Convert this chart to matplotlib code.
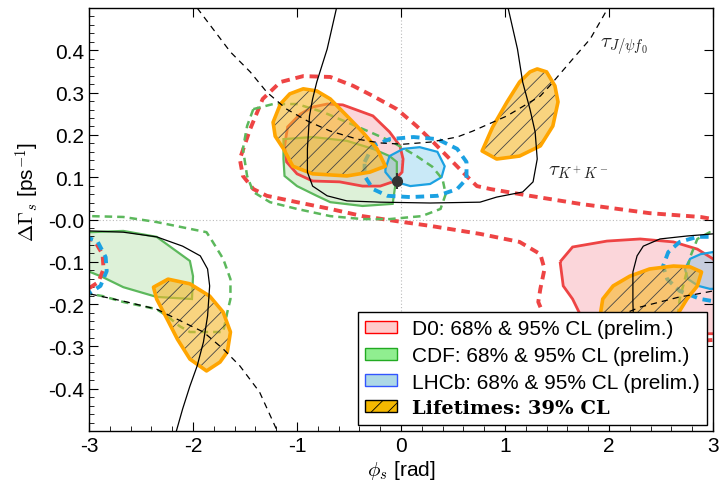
## phi_s vs DeltaGamma_s contours (D0, CDF, LHCb, lifetimes)

import numpy as np
import matplotlib.pyplot as plt
from matplotlib.patches import Patch
from matplotlib.ticker import MultipleLocator, FormatStrFormatter

plt.rcParams['font.family'] = ['Liberation Sans', 'DejaVu Sans']
plt.rcParams['mathtext.fontset'] = 'cm'
plt.rcParams['axes.unicode_minus'] = False
plt.rcParams['hatch.linewidth'] = 0.6

## ---- contours: phi_s [rad], DeltaGamma_s [ps^-1] ----
# D0 68% (two islands)
d0_68a_x = [-0.71, -0.56, -0.27, -0.11, -0.01, 0.02, 0.01, -0.08, -0.20, -0.37, -0.59, -0.85, -1.00, -1.10, -1.12, -1.09, -0.97, -0.85]
d0_68a_y = [0.273, 0.271, 0.245, 0.207, 0.174, 0.143, 0.112, 0.089, 0.079, 0.079, 0.089, 0.091, 0.108, 0.136, 0.174, 0.219, 0.249, 0.266]
d0_68b_x = [1.53, 1.65, 1.98, 2.30, 2.62, 2.85, 3.00, 3.12, 3.12, 1.91, 1.72, 1.65, 1.56]
d0_68b_y = [-0.100, -0.065, -0.051, -0.046, -0.053, -0.070, -0.093, -0.129, -0.270, -0.270, -0.223, -0.188, -0.157]
# D0 95%
d0_95a_x = [3.12, 2.88, 2.39, 1.72, 1.24, 0.86, 0.73, 0.63, 0.47, 0.31, 0.15, -0.04, -0.27, -0.46, -0.68, -0.94, -1.16, -1.33, -1.45, -1.55,
            -1.52, -1.42, -1.29, -1.00, -0.68, -0.37, -0.04, 0.28, 0.76, 1.14, 1.34, 1.38, 1.34, 1.32, 1.38, 1.62, 2.39, 3.12]
d0_95a_y = [-0.004, 0.006, 0.015, 0.037, 0.056, 0.072, 0.079, 0.103, 0.143, 0.183, 0.221, 0.261, 0.292, 0.316, 0.337, 0.339, 0.325, 0.285, 0.214, 0.143,
            0.103, 0.072, 0.056, 0.041, 0.025, 0.008, -0.004, -0.015, -0.034, -0.053, -0.082, -0.117, -0.164, -0.195, -0.230, -0.283, -0.294, -0.283]
d0_95b_x = [-3.04, -2.94, -2.87, -2.86, -2.91, -3.04]
d0_95b_y = [-0.039, -0.053, -0.082, -0.117, -0.148, -0.169]

# CDF 68%
cdf_68a_x = [-1.13, -0.85, -0.52, -0.27, -0.11, -0.04, -0.04, -0.06, -0.08, -0.37, -0.68, -0.81, -1.00, -1.12, -1.13]
cdf_68a_y = [0.190, 0.195, 0.186, 0.167, 0.150, 0.136, 0.103, 0.072, 0.037, 0.032, 0.041, 0.056, 0.079, 0.103, 0.143]
cdf_68b_x = [-3.09, -2.99, -2.67, -2.35, -2.03, -2.00, -2.01, -2.35, -2.67, -2.87, -2.99, -3.09]
cdf_68b_y = [-0.030, -0.030, -0.027, -0.041, -0.098, -0.134, -0.188, -0.183, -0.160, -0.136, -0.124, -0.124]
# CDF 95%
cdf_95a_x = [-1.42, -1.23, -1.00, -0.75, -0.52, -0.30, -0.08, 0.15, 0.30, 0.40, 0.43, 0.38, 0.20, -0.11, -0.37, -0.68, -1.00, -1.26, -1.42, -1.48, -1.52, -1.48]
cdf_95a_y = [0.261, 0.273, 0.273, 0.254, 0.230, 0.207, 0.183, 0.150, 0.125, 0.095, 0.060, 0.025, 0.008, 0.001, 0.001, 0.008, 0.025, 0.041, 0.065, 0.103, 0.167, 0.221]
cdf_95b_x = [-3.09, -2.99, -2.67, -2.35, -2.03, -1.87, -1.81, -1.71, -1.64, -1.64, -1.67, -1.71, -1.84, -2.03, -2.13, -2.25, -2.35, -2.67, -2.87, -2.99, -3.09]
cdf_95b_y = [0.008, 0.008, 0.006, -0.006, -0.022, -0.030, -0.053, -0.093, -0.141, -0.188, -0.219, -0.266, -0.266, -0.266, -0.252, -0.228, -0.212, -0.195, -0.181, -0.176, -0.176]
cdf_95c_x = [3.12, 2.97, 2.85, 2.78, 2.73, 2.68, 2.66]
cdf_95c_y = [-0.027, -0.030, -0.046, -0.089, -0.141, -0.188, -0.235]

# LHCb 68%
lhcb_68a_x = [-0.15, -0.11, 0.02, 0.18, 0.35, 0.42, 0.39, 0.28, 0.09, -0.08, -0.15]
lhcb_68a_y = [0.119, 0.150, 0.167, 0.171, 0.160, 0.126, 0.100, 0.084, 0.079, 0.091, 0.112]
lhcb_68b_x = [3.12, 3.00, 2.88, 2.78, 2.73, 2.76, 2.86, 2.97, 3.12]
lhcb_68b_y = [-0.077, -0.077, -0.082, -0.093, -0.117, -0.141, -0.157, -0.164, -0.164]
# LHCb 95%
lhcb_95a_x = [-0.35, -0.27, -0.11, 0.12, 0.35, 0.54, 0.63, 0.63, 0.54, 0.35, 0.09, -0.13, -0.27, -0.35, -0.35]
lhcb_95a_y = [0.136, 0.174, 0.190, 0.195, 0.190, 0.167, 0.136, 0.096, 0.072, 0.056, 0.053, 0.056, 0.072, 0.103, 0.136]
lhcb_95b_x = [3.12, 3.00, 2.85, 2.68, 2.57, 2.52, 2.56, 2.68, 2.88, 3.00, 3.12]
lhcb_95b_y = [-0.041, -0.041, -0.041, -0.053, -0.077, -0.110, -0.141, -0.169, -0.188, -0.193, -0.193]
lhcb_95c_x = [-3.04, -2.92, -2.84, -2.83, -2.89, -3.04]
lhcb_95c_y = [-0.041, -0.051, -0.089, -0.122, -0.157, -0.181]

# lifetimes 39%
life_a_x = [-1.23, -1.16, -1.07, -0.94, -0.81, -0.68, -0.52, -0.37, -0.23, -0.15, -0.30, -0.52, -0.85, -1.04, -1.13, -1.21]
life_a_y = [0.230, 0.273, 0.297, 0.309, 0.304, 0.285, 0.245, 0.207, 0.167, 0.126, 0.112, 0.103, 0.108, 0.126, 0.167, 0.197]
life_b_x = [0.78, 0.88, 1.02, 1.14, 1.24, 1.31, 1.40, 1.48, 1.51, 1.46, 1.34, 1.14, 0.92]
life_b_y = [0.162, 0.218, 0.278, 0.325, 0.349, 0.356, 0.349, 0.316, 0.278, 0.221, 0.174, 0.150, 0.143]
life_c_x = [-2.38, -2.24, -2.03, -1.84, -1.71, -1.64, -1.67, -1.74, -1.87, -2.03, -2.15, -2.25, -2.35]
life_c_y = [-0.160, -0.141, -0.152, -0.181, -0.219, -0.266, -0.313, -0.337, -0.358, -0.330, -0.283, -0.235, -0.188]
life_d_x = [1.91, 1.94, 2.04, 2.20, 2.39, 2.62, 2.78, 2.89, 2.85, 2.75, 2.68, 2.59, 2.20]
life_d_y = [-0.235, -0.188, -0.157, -0.134, -0.117, -0.110, -0.112, -0.124, -0.157, -0.188, -0.216, -0.259, -0.271]

# tau_{K+K-} band (solid black)
tkk_a_x = [-0.62, -0.71, -0.81, -0.85, -0.88, -0.90, -0.90, -0.85, -0.71, -0.52, -0.20, 0.28, 0.76, 0.92, 1.17, 1.27, 1.31, 1.29, 1.24, 1.17, 1.12, 1.03]
tkk_a_y = [0.500, 0.403, 0.325, 0.285, 0.245, 0.167, 0.112, 0.079, 0.056, 0.044, 0.041, 0.039, 0.041, 0.053, 0.065, 0.089, 0.143, 0.207, 0.261, 0.325, 0.403, 0.500]
tkk_b_x = [-3.09, -2.99, -2.67, -2.35, -2.10, -1.93, -1.86, -1.84, -1.86, -1.90, -1.96, -2.03, -2.10, -2.16]
tkk_b_y = [-0.027, -0.027, -0.030, -0.041, -0.063, -0.086, -0.117, -0.157, -0.228, -0.290, -0.346, -0.394, -0.448, -0.500]
tkk_c_x = [3.12, 3.00, 2.75, 2.49, 2.33, 2.27, 2.23, 2.23, 2.24, 2.26]
tkk_c_y = [-0.034, -0.034, -0.039, -0.046, -0.063, -0.086, -0.124, -0.195, -0.283, -0.378]

# tau_{J/psi f0} band (dashed black)
tjf_a_x = [-1.96, -1.64, -1.45, -1.29, -1.10, -0.90, -0.68, -0.42, -0.20, 0.02, 0.28, 0.54, 0.69, 1.02, 1.34, 1.43, 1.65, 1.82, 1.93, 1.99]
tjf_a_y = [0.500, 0.396, 0.349, 0.301, 0.261, 0.233, 0.209, 0.190, 0.181, 0.178, 0.183, 0.195, 0.209, 0.245, 0.292, 0.316, 0.379, 0.427, 0.474, 0.500]
tjf_b_x = [-3.09, -2.99, -2.67, -2.35, -2.10, -1.90, -1.71, -1.55, -1.36, -1.19]
tjf_b_y = [-0.171, -0.176, -0.193, -0.212, -0.242, -0.266, -0.306, -0.346, -0.408, -0.500]
tjf_c_x = [3.12, 3.00, 2.85, 2.68, 2.49, 2.30, 1.91]
tjf_c_y = [-0.164, -0.169, -0.176, -0.183, -0.195, -0.207, -0.247]

# SM point
sm_x = [-0.036]
sm_y = [0.091]
sm_err = [0.018]

legend_labels = ['D0: 68% & 95% CL (prelim.)', 'CDF: 68% & 95% CL (prelim.)',
                 'LHCb: 68% & 95% CL (prelim.)', 'Lifetimes: 39% CL']

## ---- colours ----
red, red_fill = '#ee4444', '#f48a95'
green, green_fill = '#5cb85c', '#8fd17f'
blue, blue_fill = '#1ba1e2', '#5bbde8'
orange, orange_fill = '#ffa500', '#f6b82a'

fig = plt.figure(figsize=(7.22, 4.85), dpi=100)
ax = fig.add_axes([0.1233, 0.1093, 0.8642, 0.8721])

ax.axvline(0, color='#bbbbbb', lw=0.8, ls=(0, (1, 2)), zorder=0)
ax.axhline(0, color='#bbbbbb', lw=0.8, ls=(0, (1, 2)), zorder=0)

## 68% regions
for xs, ys in [(d0_68a_x, d0_68a_y), (d0_68b_x, d0_68b_y)]:
    ax.fill(xs, ys, facecolor=red_fill, alpha=0.35, lw=0, zorder=1)
    ax.fill(xs, ys, facecolor='none', edgecolor=red, lw=2.0, zorder=2)
for xs, ys in [(cdf_68a_x, cdf_68a_y), (cdf_68b_x, cdf_68b_y)]:
    ax.fill(xs, ys, facecolor=green_fill, alpha=0.3, lw=0, zorder=1)
    ax.fill(xs, ys, facecolor='none', edgecolor=green, lw=1.6, zorder=2)
for xs, ys in [(lhcb_68a_x, lhcb_68a_y), (lhcb_68b_x, lhcb_68b_y)]:
    ax.fill(xs, ys, facecolor=blue_fill, alpha=0.33, lw=0, zorder=1)
    ax.fill(xs, ys, facecolor='none', edgecolor=blue, lw=1.6, zorder=2)

## 95% regions
ax.plot(d0_95a_x, d0_95a_y, color=red, lw=2.8, ls=(0, (2.2, 1.5)), zorder=2)
ax.plot(d0_95b_x, d0_95b_y, color=red, lw=2.8, ls=(0, (2.2, 1.5)), zorder=2)
ax.fill(cdf_95a_x, cdf_95a_y, facecolor='none', edgecolor=green, lw=1.8, ls=(0, (3, 2)), zorder=2)
ax.plot(cdf_95b_x, cdf_95b_y, color=green, lw=1.8, ls=(0, (3, 2)), zorder=2)
ax.plot(cdf_95c_x, cdf_95c_y, color=green, lw=1.8, ls=(0, (3, 2)), zorder=2)
ax.plot(lhcb_95a_x, lhcb_95a_y, color=blue, lw=2.8, ls=(0, (2.2, 1.5)), zorder=2)
ax.plot(lhcb_95b_x, lhcb_95b_y, color=blue, lw=2.8, ls=(0, (2.2, 1.5)), zorder=2)
ax.plot(lhcb_95c_x, lhcb_95c_y, color=blue, lw=2.8, ls=(0, (2.2, 1.5)), zorder=2)

## lifetimes
for xs, ys in [(life_a_x, life_a_y), (life_b_x, life_b_y), (life_c_x, life_c_y), (life_d_x, life_d_y)]:
    ax.fill(xs, ys, facecolor=orange_fill, alpha=0.6, lw=0, zorder=3)
    ax.fill(xs, ys, facecolor='none', edgecolor='#444444', hatch='//', lw=0, zorder=3)
    ax.fill(xs, ys, facecolor='none', edgecolor=orange, lw=2.6, joinstyle='round', zorder=3)

## lifetime bands
for xs, ys in [(tkk_a_x, tkk_a_y), (tkk_b_x, tkk_b_y), (tkk_c_x, tkk_c_y)]:
    ax.plot(xs, ys, color='black', lw=0.9, zorder=4)
for xs, ys in [(tjf_a_x, tjf_a_y), (tjf_b_x, tjf_b_y), (tjf_c_x, tjf_c_y)]:
    ax.plot(xs, ys, color='black', lw=0.9, ls=(0, (5, 4)), zorder=4)

ax.errorbar(sm_x, sm_y, yerr=sm_err, fmt='o', color='#333333', ms=7, elinewidth=1.5, capsize=0, zorder=5)

ax.text(1.91, 0.408, r'$\tau_{J/\psi f_0}$', fontsize=15, va='center', ha='left', color='#222222', zorder=5)
ax.text(1.41, 0.115, r'$\tau_{K^+K^-}$', fontsize=15, va='center', ha='left', color='#222222', zorder=5)

## axes
ax.set_xlim(-3, 3)
ax.set_ylim(-0.5, 0.5)
ax.xaxis.set_major_locator(MultipleLocator(1))
ax.xaxis.set_minor_locator(MultipleLocator(0.2))
ax.yaxis.set_major_locator(MultipleLocator(0.1))
ax.yaxis.set_minor_locator(MultipleLocator(0.02))
ax.xaxis.set_major_formatter(FormatStrFormatter('%d'))
ax.yaxis.set_major_formatter(FormatStrFormatter('%.1f'))
ax.set_yticks(np.arange(-0.4, 0.41, 0.1))
ax.tick_params(which='major', direction='in', length=6.5, width=0.8, top=True, right=True, labelsize=15)
ax.tick_params(which='minor', direction='in', length=3.5, width=0.6, top=False, right=False)
for s in ax.spines.values():
    s.set_linewidth(1.0)

ax.set_xlabel(r'$\phi_s$ [rad]', fontsize=15, labelpad=2)
ax.set_ylabel(r'$\Delta\Gamma_s$ [ps$^{-1}$]', fontsize=15)
ax.yaxis.set_label_coords(-0.075, 0.567)

handles = [Patch(facecolor='#ffcccc', edgecolor='red', lw=1),
           Patch(facecolor='#90ee90', edgecolor='#22aa22', lw=1),
           Patch(facecolor='#add8e6', edgecolor='#3355ff', lw=1),
           Patch(facecolor='#f5b800', edgecolor='black', lw=1, hatch='//')]
leg = ax.legend(handles, legend_labels, loc='lower right', fontsize=15, frameon=True, fancybox=False,
                framealpha=1, edgecolor='black', borderaxespad=0.3, labelspacing=0.37,
                handlelength=1.55, handleheight=0.53, handletextpad=0.7, borderpad=0.35)
leg.get_frame().set_linewidth(1.0)
leg.set_zorder(10)
bold = leg.get_texts()[3]
bold.set_fontfamily('DejaVu Serif')
bold.set_fontweight('bold')
bold.set_fontsize(14)

fig.savefig('out.png', dpi=100)
